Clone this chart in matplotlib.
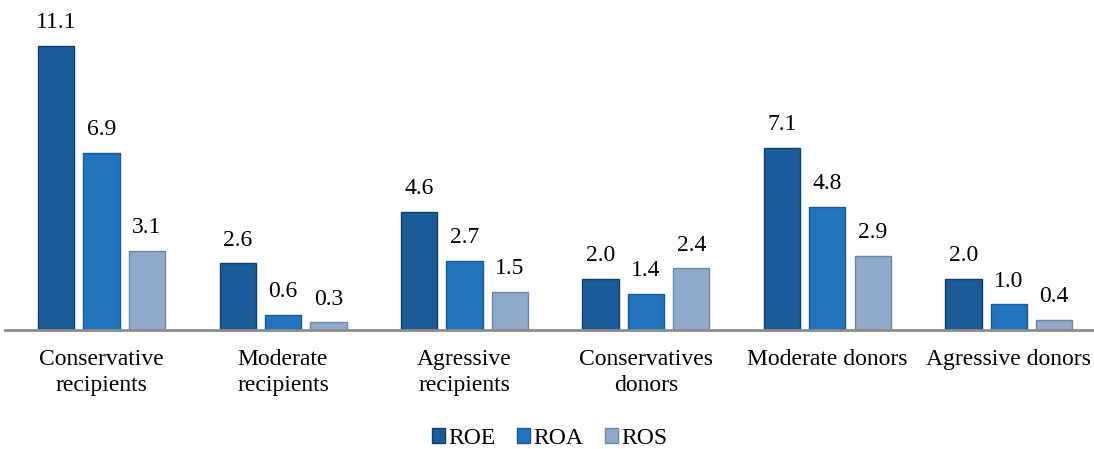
import numpy as np
import matplotlib.pyplot as plt

categories = ['Conservative\nrecipients', 'Moderate\nrecipients', 'Agressive\nrecipients',
              'Conservatives\ndonors', 'Moderate donors', 'Agressive donors']
roe = [11.1, 2.6, 4.6, 2.0, 7.1, 2.0]
roa = [6.9, 0.6, 2.7, 1.4, 4.8, 1.0]
ros = [3.1, 0.3, 1.5, 2.4, 2.9, 0.4]
series = ['ROE', 'ROA', 'ROS']
colors = ['#1a5b98', '#2275bd', '#8ea9ca']
edges = ['#0f3f6e', '#175a96', '#6b86a8']

plt.rcParams['font.family'] = ['Liberation Serif', 'DejaVu Serif']

fig = plt.figure(figsize=(10.94, 4.49), dpi=100)
ax = fig.add_axes([0.005, 0.265, 0.995, 0.725])

x = np.arange(len(categories))
w = 0.2
off = 0.25
for i, (vals, name) in enumerate(zip([roe, roa, ros], series)):
    bars = ax.bar(x + (i - 1) * off, vals, w, color=colors[i], edgecolor=edges[i],
                  linewidth=1, label=name)
    for b, v in zip(bars, vals):
        ax.text(b.get_x() + b.get_width() / 2, v + 0.5, f'{v:.1f}',
                ha='center', va='bottom', fontsize=17)

ax.set_xlim(-0.53, 5.47)
ax.set_ylim(0, 12.7)
ax.set_yticks([])
ax.set_xticks(x)
ax.set_xticklabels(categories, fontsize=17, linespacing=1.3)
ax.tick_params(axis='x', length=0, pad=14)
for s in ['top', 'right', 'left']:
    ax.spines[s].set_visible(False)
ax.spines['bottom'].set_color('#8c8c8c')
ax.spines['bottom'].set_linewidth(2)

ax.legend(loc='lower center', bbox_to_anchor=(0.5, -0.43), ncol=3, frameon=False,
          fontsize=17, handlelength=0.55, handleheight=0.55, handletextpad=0.15,
          columnspacing=0.9)

fig.savefig('out.png', dpi=100)
